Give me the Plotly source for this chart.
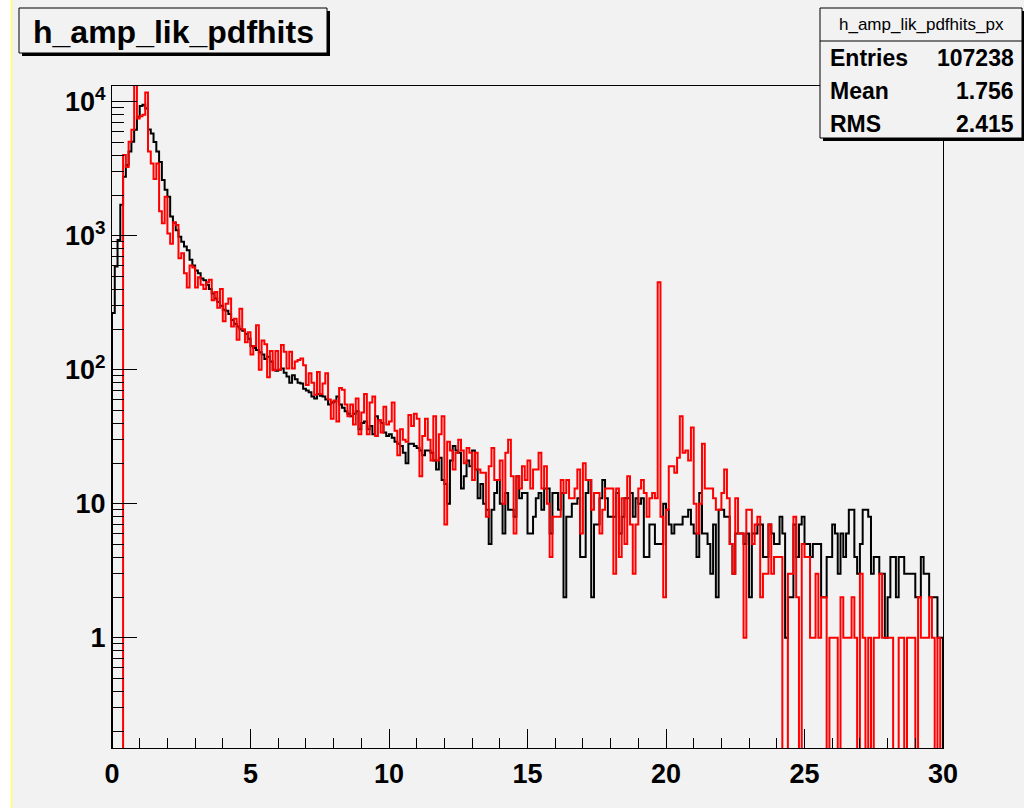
import numpy as np
import plotly.graph_objects as go

# ---------------- data ----------------
X_MIN, X_MAX, N_BINS = 0.0, 30.0, 300

black_counts = [
    265, 590, 930, 1700, 2750, 3370, 4250, 5030, 6170, 7730,
    9300, 9500, 8900, 6200, 5800, 5000, 4250, 3550, 2600, 2200,
    1950, 1390, 1250, 1100, 980, 900, 830, 780, 660, 600,
    550, 525, 480, 465, 430, 400, 370, 340, 320, 300,
    280, 275, 260, 235, 220, 210, 200, 195, 185, 170,
    150, 145, 140, 135, 130, 120, 125, 115, 100, 98,
    100, 102, 95, 89, 80, 91, 85, 80, 79, 72,
    70, 68, 63, 61, 66, 64, 63, 60, 55, 57,
    58, 63, 55, 52, 49, 47, 45, 47, 49, 36,
    40, 41, 36, 38, 33, 45, 42, 40, 34, 32,
    33, 31, 29, 28, 27, 24, 20, 28, 28, 27,
    26, 25, 23, 25, 25, 24, 21, 18, 22, 15,
    14, 10, 21, 27, 25, 24, 13, 16, 21, 19,
    25, 18, 11, 14, 10, 9, 5, 9, 12, 15,
    10, 6, 12, 9, 9, 8, 16, 11, 12, 12,
    6, 6, 8, 11, 12, 9, 13, 13, 6, 12,
    12, 9, 12, 2, 8, 8, 10, 10, 11, 4,
    4, 12, 15, 2, 7, 7, 11, 15, 11, 8,
    8, 8, 12, 6, 8, 11, 11, 12, 8, 11,
    10, 11, 4, 4, 7, 7, 5, 5, 5, 10,
    9, 7, 6, 7, 7, 7, 8, 8, 9, 7,
    6, 4, 12, 6, 6, 5, 3, 7, 2, 9,
    9, 8, 8, 5, 3, 6, 6, 6, 5, 6,
    2, 6, 6, 7, 7, 4, 4, 7, 6, 5,
    5, 8, 6, 1, 2, 2, 7, 4, 7, 8,
    5, 5, 4, 5, 5, 5, 2, 2, 4, 4,
    7, 6, 3, 6, 4, 6, 9, 9, 4, 3,
    5, 9, 9, 8, 3, 4, 4, 3, 3, 1,
    2, 4, 4, 2, 4, 4, 3, 3, 3, 3,
    2, 2, 4, 3, 3, 2, 2, 2, 1, 1,
]

red_counts = [
    0, 0, 0, 0, 4000, 3250, 5030, 6170, 14000, 7500,
    7800, 8000, 11700, 4250, 3460, 2650, 3460, 1520, 1240, 1950,
    1040, 870, 1260, 1200, 680, 740, 525, 410, 600, 580,
    410, 490, 430, 400, 450, 470, 330, 380, 290, 400,
    230, 310, 340, 210, 240, 167, 285, 200, 160, 190,
    130, 150, 215, 100, 165, 155, 88, 138, 99, 138,
    100, 153, 136, 102, 136, 102, 115, 118, 121, 108,
    77, 94, 80, 65, 96, 66, 79, 94, 60, 43,
    59, 41, 73, 71, 55, 45, 55, 39, 61, 33,
    48, 66, 33, 57, 63, 32, 42, 34, 53, 39,
    41, 57, 35, 23, 36, 30, 29, 46, 38, 47,
    43, 16, 32, 43, 30, 21, 45, 21, 33, 45,
    7, 29, 25, 18, 24, 30, 25, 20, 26, 24,
    15, 24, 18, 17, 17, 8, 19, 26, 15, 15,
    21, 10, 24, 30, 16, 6, 16, 13, 19, 15,
    21, 13, 18, 18, 24, 13, 19, 10, 4, 8,
    8, 8, 15, 12, 15, 11, 11, 13, 18, 6,
    20, 15, 15, 9, 12, 12, 6, 9, 13, 13,
    13, 3, 13, 4, 11, 5, 16, 7, 3, 7,
    13, 15, 12, 8, 11, 12, 11, 450, 8, 2,
    9, 19, 19, 17, 22, 45, 24, 25, 21, 37,
    10, 6, 10, 28, 13, 13, 13, 11, 9, 9,
    12, 18, 11, 5, 3, 11, 6, 6, 1, 9,
    9, 5, 7, 8, 2, 3, 3, 7, 3, 4,
    4, 4, 0, 0, 3, 3, 8, 2, 0, 5,
    4, 4, 1, 1, 3, 1, 2, 2, 0, 1,
    1, 1, 0, 2, 1, 1, 1, 2, 1, 0,
    3, 1, 0, 1, 0, 1, 1, 3, 1, 1,
    1, 1, 0, 0, 1, 1, 0, 1, 1, 1,
    0, 2, 1, 1, 1, 2, 1, 0, 1, 0,
]

x_tick_vals = [0, 5, 10, 15, 20, 25, 30]
x_tick_text = ["0", "5", "10", "15", "20", "25", "30"]
y_tick_vals = [1, 10, 100, 1000, 10000]
y_tick_text = ["1", "10", "10<sup>2</sup>", "10<sup>3</sup>", "10<sup>4</sup>"]

title_text = "h_amp_lik_pdfhits"
stats_header = "h_amp_lik_pdfhits_px"
stats_names = ["Entries", "Mean", "RMS"]
stats_values = ["107238", "1.756", "2.415"]

assert len(black_counts) == N_BINS and len(red_counts) == N_BINS

# ---------------- geometry / style ----------------
W, H = 1024, 808
PL, PR, PT, PB = 112, 943, 86, 748
PW, PH = PR - PL, PB - PT
Y_LOG_RANGE = [-0.823, 4.117]
BG = "#f2f2f2"
FONT = "Liberation Sans, Arial, sans-serif"


def fx(px):
    return (px - PL) / PW


def fy(py):
    return (PB - py) / PH


edges = np.linspace(X_MIN, X_MAX, N_BINS + 1)
floor_val = 10 ** (Y_LOG_RANGE[0] - 1.0)


def step_xy(counts):
    vals = [c if c > 0 else floor_val for c in counts]
    xs = [edges[0]] + list(edges[:-1]) + [edges[-1], edges[-1]]
    ys = [floor_val] + vals + [vals[-1], floor_val]
    return xs, ys


fig = go.Figure()
for counts, color in ((black_counts, "#000000"), (red_counts, "#ff0000")):
    xs, ys = step_xy(counts)
    fig.add_trace(go.Scatter(x=xs, y=ys, mode="lines", line=dict(color=color, width=2, shape="hv"),
                             hoverinfo="skip", showlegend=False))

minor_y = [k * 10.0 ** d for d in range(-1, 5) for k in range(2, 10)]

fig.update_layout(
    width=W, height=H,
    margin=dict(l=PL, r=W - PR, t=PT, b=H - PB, pad=0),
    paper_bgcolor=BG, plot_bgcolor=BG,
    showlegend=False,
    xaxis=dict(range=[X_MIN, X_MAX], showgrid=False, zeroline=False,
               showline=True, linecolor="black", linewidth=1, mirror=True,
               ticks="inside", ticklen=19, tickwidth=1, tickcolor="black",
               tickmode="array", tickvals=x_tick_vals, ticktext=x_tick_text,
               tickfont=dict(family=FONT, size=27, color="black", weight="bold"),
               ticklabelstandoff=2,
               minor=dict(ticks="inside", ticklen=10, tickwidth=1, tickcolor="black",
                          dtick=1, tick0=0, showgrid=False)),
    yaxis=dict(type="log", range=Y_LOG_RANGE, showgrid=False, zeroline=False,
               showline=True, linecolor="black", linewidth=1, mirror=True,
               ticks="inside", ticklen=25, tickwidth=1, tickcolor="black",
               tickmode="array", tickvals=y_tick_vals, ticktext=y_tick_text,
               tickfont=dict(family=FONT, size=27, color="black", weight="bold"),
               ticklabelstandoff=0,
               minor=dict(ticks="inside", ticklen=12, tickwidth=1, tickcolor="black",
                          tickmode="array", tickvals=minor_y, showgrid=False)),
)

shapes = []
# left white strip and yellow canvas edge
shapes.append(dict(type="rect", xref="paper", yref="paper", x0=fx(0), x1=fx(11), y0=fy(H), y1=fy(0),
                   fillcolor="white", line=dict(width=0), layer="above"))
shapes.append(dict(type="line", xref="paper", yref="paper", x0=fx(11.5), x1=fx(11.5), y0=fy(H), y1=fy(0),
                   line=dict(color="#ffff66", width=1.5), layer="above"))
# title box with shadow
shapes.append(dict(type="rect", xref="paper", yref="paper", x0=fx(22), x1=fx(330), y0=fy(56), y1=fy(11),
                   fillcolor="black", line=dict(width=0), layer="above"))
shapes.append(dict(type="rect", xref="paper", yref="paper", x0=fx(19), x1=fx(327), y0=fy(53), y1=fy(8),
                   fillcolor=BG, line=dict(color="black", width=1), layer="above"))
# stats box with shadow
shapes.append(dict(type="rect", xref="paper", yref="paper", x0=fx(823), x1=fx(1030), y0=fy(141), y1=fy(11),
                   fillcolor="black", line=dict(width=0), layer="above"))
shapes.append(dict(type="rect", xref="paper", yref="paper", x0=fx(820), x1=fx(1022), y0=fy(138), y1=fy(8),
                   fillcolor=BG, line=dict(color="black", width=1), layer="above"))
shapes.append(dict(type="line", xref="paper", yref="paper", x0=fx(820), x1=fx(1022), y0=fy(41), y1=fy(41),
                   line=dict(color="black", width=1), layer="above"))
fig.update_layout(shapes=shapes)

ann = []
ann.append(dict(text=title_text, xref="paper", yref="paper", x=fx(173), y=fy(32), xanchor="center",
                yanchor="middle", showarrow=False,
                font=dict(family=FONT, size=32, color="black", weight="bold")))
ann.append(dict(text=stats_header, xref="paper", yref="paper", x=fx(921), y=fy(24), xanchor="center",
                yanchor="middle", showarrow=False,
                font=dict(family=FONT, size=17, color="black")))
row_y = [58, 91, 124]
for name, val, yy in zip(stats_names, stats_values, row_y):
    ann.append(dict(text=name, xref="paper", yref="paper", x=fx(828), y=fy(yy), xanchor="left",
                    yanchor="middle", showarrow=False,
                    font=dict(family=FONT, size=23, color="black", weight="bold")))
    ann.append(dict(text=val, xref="paper", yref="paper", x=fx(1016), y=fy(yy), xanchor="right",
                    yanchor="middle", showarrow=False,
                    font=dict(family=FONT, size=23, color="black", weight="bold")))
fig.update_layout(annotations=ann)

fig.write_html("out.html", include_plotlyjs=True, full_html=True,
               config={"displayModeBar": False})
